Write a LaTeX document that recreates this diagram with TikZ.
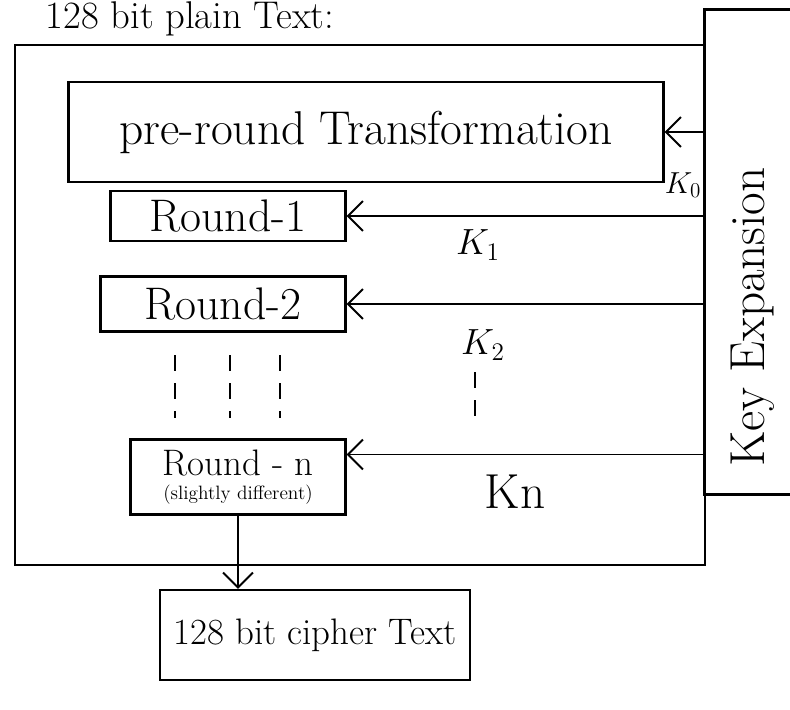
\documentclass[tikz,border=0pt]{standalone}
\usepackage{amsmath}
\usepackage{tikz}
\usetikzlibrary{arrows.meta}

\begin{document}
\begin{tikzpicture}[x=0.02cm,y=-0.02cm]
		\tikzset{stage/.style={draw,line width=1.3pt,inner sep=0pt,align=center},
			keyarrow/.style={line width=1.1pt,-{Straight Barb[length=3mm,width=6mm]}},
			gap/.style={line width=1.3pt,dash pattern=on 9pt off 7pt}};
		\useasboundingbox (0,0) rectangle (790,709);
		\node (plain) at (190,19) {\fontsize{22}{26}\selectfont 128 bit plain Text:};
		\draw[line width=1.3pt] (15,45) rectangle (705,565);
		\node[stage,minimum width=1.9cm,minimum height=9.7cm] (keyexp) at (752,252) {};
		\node[rotate=90] (kelabel) at (753,317) {\fontsize{28}{32}\selectfont Key Expansion};
		% rounds
		\node[stage,minimum width=11.9cm,minimum height=2cm] (pre) at (366,132) {\fontsize{27}{32}\selectfont pre-round Transformation};
		\node[stage,minimum width=4.7cm,minimum height=1cm] (rone) at (228,216) {\fontsize{26}{30}\selectfont Round-1};
		\node[stage,minimum width=4.9cm,minimum height=1.1cm] (rtwo) at (223,304) {\fontsize{26}{30}\selectfont Round-2};
		\node[stage,minimum width=4.3cm,minimum height=1.5cm] (rn) at (238,477) {\fontsize{21}{24}\selectfont Round - n\\[2pt]\fontsize{11}{12}\selectfont (slightly different)};
		\node[stage,minimum width=6.2cm,minimum height=1.8cm] (cipher) at (315,635) {\fontsize{21}{26}\selectfont 128 bit cipher Text};
		% round keys
		\coordinate (kn) at ([yshift=0.45cm]rn.east);
		\draw[keyarrow] (keyexp.west |- pre.east) -- (pre.east);
		\draw[keyarrow] (keyexp.west |- rone.east) -- (rone.east);
		\draw[keyarrow] (keyexp.west |- rtwo.east) -- (rtwo.east);
		\draw[keyarrow] (keyexp.west |- kn) -- (kn);
		\draw[keyarrow] (rn.south) -- (rn.south |- cipher.north);
		\node (kzero) at (683,185) {\fontsize{18}{22}\selectfont $K_0$};
		\node (kone) at (478,245) {\fontsize{22}{26}\selectfont $K_1$};
		\node (ktwo) at (483,345) {\fontsize{22}{26}\selectfont $K_2$};
		\node (kenn) at (515,492) {\fontsize{28}{32}\selectfont Kn};
		% the rounds in between
		\foreach \x in {175,230,280}
			\draw[gap] (\x,355) -- (\x,418);
		\draw[gap] (475,372) -- (475,428);
	\end{tikzpicture}
\end{document}
